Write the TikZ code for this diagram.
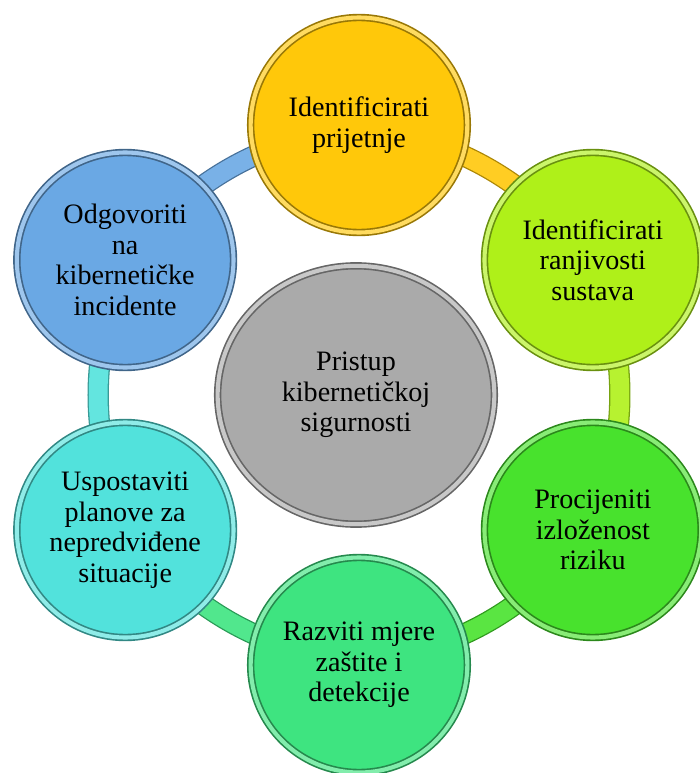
\documentclass[tikz,border=0pt]{standalone}
\usepackage{fontspec}
\setmainfont{Liberation Serif}
\usetikzlibrary{shapes.geometric,backgrounds}

\definecolor{cgray}{RGB}{170,170,170}
\definecolor{cyellow}{RGB}{255,200,10}
\definecolor{clime}{RGB}{175,240,25}
\definecolor{cgreen}{RGB}{72,226,45}
\definecolor{cmint}{RGB}{62,228,128}
\definecolor{cteal}{RGB}{82,226,220}
\definecolor{cblue}{RGB}{106,168,228}

\begin{document}
\begin{tikzpicture}[x=0.03cm,y=0.03cm,
  bubble/.style={ellipse,fill=#1,draw=#1!60!black,double=#1!65!white,
    double distance=3.5pt,line width=1.4pt,minimum width=6.5cm,minimum height=6.45cm,
    inner sep=0pt,align=center,font=\fontsize{24}{26}\selectfont},
  ring/.style={draw=#1!68!black,double=#1!90!white,double distance=16pt,line width=1.1pt}]

\useasboundingbox (-359,-378) rectangle (341,395);

\node[bubble=cgray,minimum width=8.3cm,minimum height=7.75cm] (0) at (-3,0) {Pristup\\kibernetičkoj\\sigurnosti};

\node[bubble=cyellow] (1) at (90:270) {Identificirati\\prijetnje};
\node[bubble=clime] (2) at (30:270) {Identificirati\\ranjivosti\\sustava};
\node[bubble=cgreen] (3) at (-30:270) {Procijeniti\\izloženost\\riziku};
\node[bubble=cmint] (4) at (-90:270) {Razviti mjere\\zaštite i\\detekcije};
\node[bubble=cteal] (5) at (-150:270) {Uspostaviti\\planove za\\nepredviđene\\situacije};
\node[bubble=cblue] (6) at (150:270) {Odgovoriti\\na\\kibernetičke\\incidente};

% ring behind the bubbles
\begin{scope}[on background layer]
\path[bend left=20]
(6.center) edge[ring=cblue] (1.center)
(1.center) edge[ring=cyellow] (2.center)
(2.center) edge[ring=clime] (3.center)
(3.center) edge[ring=cgreen] (4.center)
(4.center) edge[ring=cmint] (5.center)
(5.center) edge[ring=cteal] (6.center);
\end{scope}

\end{tikzpicture}
\end{document}
